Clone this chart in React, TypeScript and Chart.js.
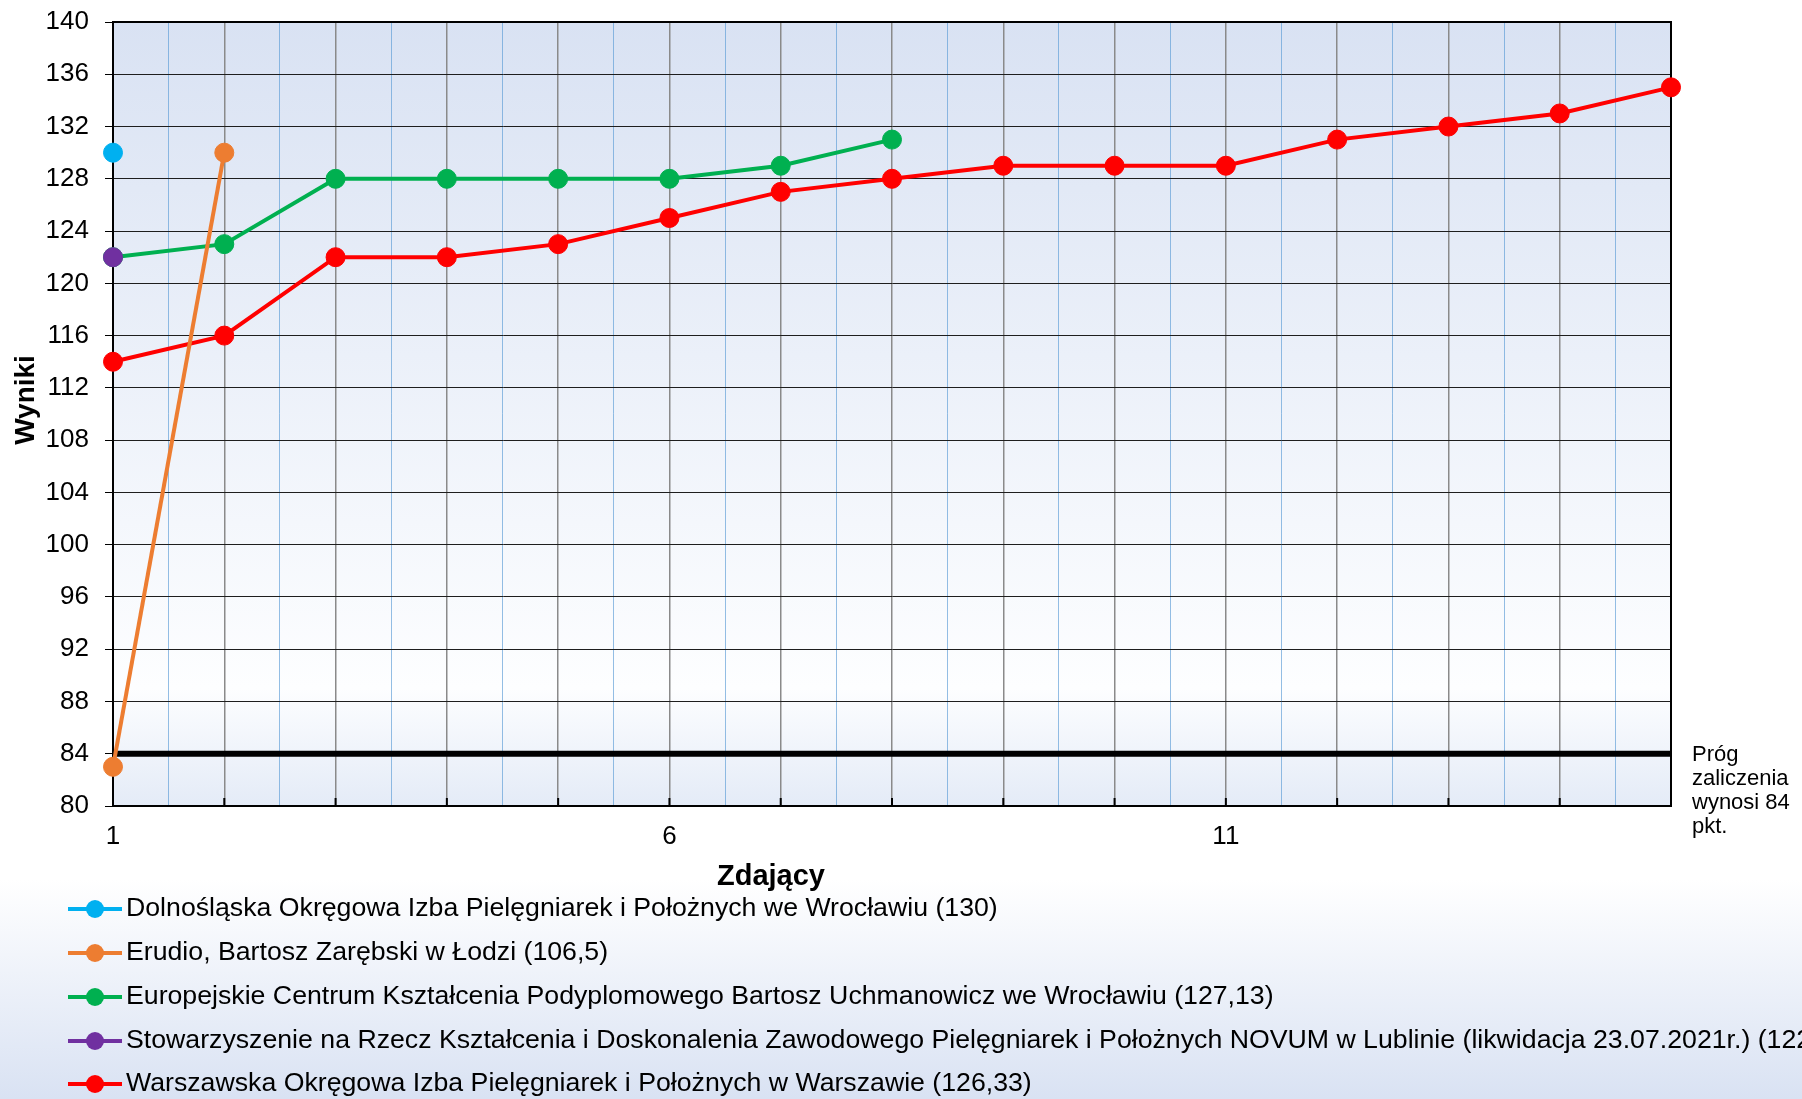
import React, { useEffect, useRef } from "react";
import { Chart, registerables } from "chart.js";

Chart.register(...registerables);

// ---- data ----
const warszawskaScores = [114, 116, 122, 122, 123, 125, 127, 128, 129, 129, 129, 131, 132, 133, 135];
const europejskieScores = [122, 123, 128, 128, 128, 128, 129, 131];
const erudioScores = [83, 130];
const dolnoslaskaScores = [130];
const novumScores = [122];
const passThreshold = 84;
const xMin = 1;
const xMax = 15;
const xLabeledTicks = [1, 6, 11];
const yMin = 80;
const yMax = 140;
const yStep = 4;

const seriesNames = [
  "Dolnośląska Okręgowa Izba Pielęgniarek i Położnych we Wrocławiu (130)",
  "Erudio, Bartosz Zarębski w Łodzi (106,5)",
  "Europejskie Centrum Kształcenia Podyplomowego Bartosz Uchmanowicz we Wrocławiu (127,13)",
  "Stowarzyszenie na Rzecz Kształcenia i Doskonalenia Zawodowego Pielęgniarek i Położnych NOVUM w Lublinie (likwidacja 23.07.2021r.) (122)",
  "Warszawska Okręgowa Izba Pielęgniarek i Położnych w Warszawie (126,33)",
];
const seriesColors = ["#00b0f0", "#ed7d31", "#00b050", "#7030a0", "#ff0000"];
const seriesValues = [dolnoslaskaScores, erudioScores, europejskieScores, novumScores, warszawskaScores];
// drawing order (lower = drawn on top)
const seriesDrawOrder = [0, 1, 3, 2, 4];
const thresholdNote = ["Próg", "zaliczenia", "wynosi 84", "pkt."];
const xTitle = "Zdający";
const yTitle = "Wyniki";

const FONT = "'Liberation Sans', Arial, sans-serif";

const toPoints = (arr: number[]) => arr.map((y, i) => ({ x: i + 1, y }));

const decorPlugin = {
  id: "decor",
  beforeDraw(chart: any) {
    const { ctx, width, height, chartArea: a } = chart;
    ctx.save();
    const pg = ctx.createLinearGradient(0, 0, 0, height);
    pg.addColorStop(0, "#ffffff");
    pg.addColorStop(0.8, "#ffffff");
    pg.addColorStop(1, "#d9e2f3");
    ctx.fillStyle = pg;
    ctx.fillRect(0, 0, width, height);
    const g = ctx.createLinearGradient(0, a.top, 0, a.bottom);
    g.addColorStop(0, "#d9e2f3");
    g.addColorStop(0.85, "#fdfeff");
    g.addColorStop(1, "#e4ebf7");
    ctx.fillStyle = g;
    ctx.fillRect(a.left, a.top, a.right - a.left, a.bottom - a.top);
    ctx.restore();
  },
  beforeDatasetsDraw(chart: any) {
    const { ctx, chartArea: a, scales } = chart;
    ctx.save();
    ctx.strokeStyle = "#000";
    ctx.lineWidth = 2;
    ctx.strokeRect(a.left, a.top, a.right - a.left, a.bottom - a.top);
    for (let v = xMin; v <= xMax; v++) {
      const px = scales.x.getPixelForValue(v);
      ctx.beginPath();
      ctx.moveTo(px, a.bottom);
      ctx.lineTo(px, a.bottom - 8);
      ctx.stroke();
    }
    ctx.restore();
  },
  afterDraw(chart: any) {
    const { ctx, chartArea: a } = chart;
    ctx.save();
    ctx.fillStyle = "#000";
    ctx.font = `bold 29px ${FONT}`;
    ctx.textAlign = "center";
    ctx.textBaseline = "middle";
    ctx.fillText(xTitle, 771, 877);
    ctx.save();
    ctx.translate(26, 400);
    ctx.rotate(-Math.PI / 2);
    ctx.font = `bold 28px ${FONT}`;
    ctx.fillText(yTitle, 0, 0);
    ctx.restore();
    ctx.font = `22px ${FONT}`;
    ctx.textAlign = "left";
    ctx.textBaseline = "middle";
    thresholdNote.forEach((t, i) => ctx.fillText(t, a.right + 21, 755 + i * 24));
    const rowY = [909, 953, 997, 1041, 1084];
    seriesNames.forEach((name, i) => {
      const y = rowY[i];
      ctx.strokeStyle = seriesColors[i];
      ctx.lineWidth = 4;
      ctx.beginPath();
      ctx.moveTo(68, y);
      ctx.lineTo(122, y);
      ctx.stroke();
      ctx.fillStyle = seriesColors[i];
      ctx.beginPath();
      ctx.arc(95, y, 9, 0, Math.PI * 2);
      ctx.fill();
      ctx.fillStyle = "#000";
      ctx.font = `26.7px ${FONT}`;
      ctx.fillText(name, 126, y);
    });
    ctx.restore();
  },
};

export default function App() {
  const ref = useRef<HTMLCanvasElement>(null);
  useEffect(() => {
    document.body.style.margin = "0";
    const canvas = ref.current!;
    const datasets: any[] = seriesValues.map((vals, i) => ({
      label: seriesNames[i],
      data: toPoints(vals),
      order: seriesDrawOrder[i],
      borderColor: seriesColors[i],
      backgroundColor: seriesColors[i],
      borderWidth: 4,
      pointRadius: 9.5,
      pointBorderWidth: 1,
      pointBorderColor: seriesColors[i],
      pointBackgroundColor: seriesColors[i],
      tension: 0,
      clip: false,
    }));
    datasets.push({
      label: "Próg",
      data: [
        { x: xMin, y: passThreshold },
        { x: xMax, y: passThreshold },
      ],
      order: 10,
      borderColor: "#000",
      borderWidth: 6,
      pointRadius: 0,
      clip: false,
    });
    const chart = new Chart(canvas, {
      type: "line",
      data: { datasets },
      options: {
        animation: false,
        responsive: false,
        devicePixelRatio: 1,
        layout: { padding: { top: 22, right: 131, left: 0, bottom: 0 } },
        plugins: { legend: { display: false }, tooltip: { enabled: false } },
        scales: {
          x: {
            type: "linear",
            min: xMin,
            max: xMax,
            afterBuildTicks(scale: any) {
              const t: any[] = [];
              for (let v = xMin; v <= xMax + 1e-9; v += 0.5) t.push({ value: v });
              scale.ticks = t;
            },
            afterFit(scale: any) {
              scale.height = 1099 - 806;
              scale.paddingLeft = 0;
              scale.paddingRight = 0;
            },
            ticks: {
              autoSkip: false,
              maxRotation: 0,
              padding: 15,
              color: "#000",
              font: { family: FONT, size: 26 },
              callback: (v: any) => (xLabeledTicks.includes(Number(v)) ? String(v) : ""),
            },
            grid: {
              drawTicks: false,
              color: (c: any) => (Number.isInteger(c.tick?.value) ? "#8a8a8a" : "rgba(91,155,213,0.65)"),
              lineWidth: (c: any) => (Number.isInteger(c.tick?.value) ? 1.5 : 1),
            },
            border: { color: "#000", width: 2 },
          },
          y: {
            min: yMin,
            max: yMax,
            afterFit(scale: any) {
              scale.width = 113;
              scale.paddingTop = 0;
              scale.paddingBottom = 0;
            },
            ticks: {
              stepSize: yStep,
              padding: 16,
              color: "#000",
              font: { family: FONT, size: 26 },
            },
            grid: { color: "#1e1e1e", lineWidth: 1, tickLength: 8, tickColor: "#000" },
            border: { color: "#000", width: 2 },
          },
        },
      },
      plugins: [decorPlugin],
    });
    return () => chart.destroy();
  }, []);
  return <canvas ref={ref} width={1802} height={1099} style={{ display: "block", width: 1802, height: 1099 }} />;
}
